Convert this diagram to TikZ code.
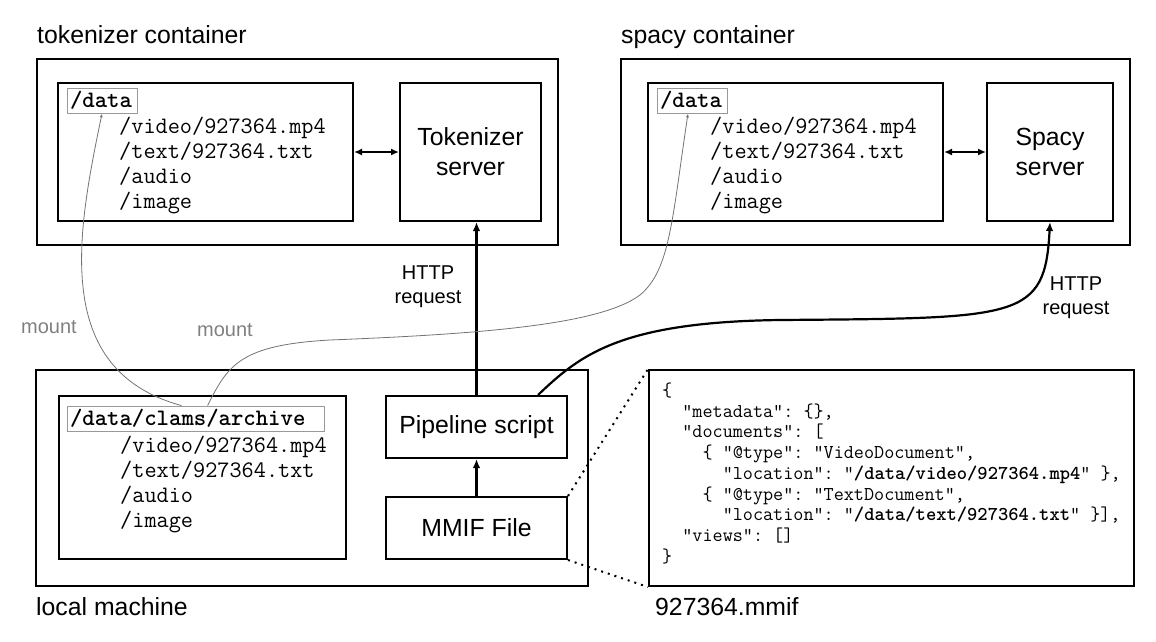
\documentclass[tikz,border=0pt]{standalone}
\usepackage{fontspec}
\setmainfont{Liberation Sans}
\usetikzlibrary{arrows.meta,calc}
\begin{document}
\begin{tikzpicture}[x=1pt,y=-1pt,
  box/.style={draw,line width=2pt,inner sep=0pt},
  big/.style={font=\fontsize{24.8}{30}\selectfont},
  note/.style={font=\fontsize{20}{24}\selectfont,align=center,inner sep=0pt},
  dir/.style={font=\fontsize{23.6}{25}\selectfont\ttfamily\frenchspacing,inner sep=0pt,anchor=base west},
  json/.style={font=\fontsize{19.6}{21}\selectfont\ttfamily\frenchspacing,inner sep=0pt,anchor=base west},
  root/.style={draw=black!40,line width=0.9pt,inner xsep=3pt,inner ysep=0pt,minimum height=25pt,align=left,font=\fontsize{23.6}{25}\selectfont\ttfamily\bfseries},
  conn/.style={line width=2.2pt,-{Latex[length=9pt,width=7.5pt]}},
  dconn/.style={line width=2pt,{Latex[length=8pt,width=7pt]}-{Latex[length=8pt,width=7pt]}},
  mnt/.style={draw=black!55,line width=0.8pt,-{Latex[length=4pt,width=3pt]}},
  dots/.style={line width=2pt,dash pattern=on 2pt off 5pt}
]
\useasboundingbox (0,0) rectangle (1156,641);

% ---------- tokenizer container ----------
\node[big,anchor=base west,inner sep=0pt] (toklbl) at (37,43) {tokenizer container};
\node[box,minimum width=521,minimum height=186] (tokout) at (297.5,152) {};
\node[box,minimum width=295,minimum height=138] (tokdata) at (205.5,152) {};
\node[root,text width=64pt] (tokroot) at (102,100.5) {/data};
\node[dir] (tokf1) at (119,133) {/video/927364.mp4};
\node[dir] (tokf2) at (119,158) {/text/927364.txt};
\node[dir] (tokf3) at (119,183) {/audio};
\node[dir] (tokf4) at (119,208) {/image};
\node[box,big,align=center,minimum width=141,minimum height=138] (toksrv) at (470.5,152) {Tokenizer\\server};
\draw[dconn] (tokdata.east) -- (toksrv.west);

% ---------- spacy container ----------
\node[big,anchor=base west,inner sep=0pt] (spylbl) at (621,43) {spacy container};
\node[box,minimum width=509,minimum height=186] (spyout) at (875.5,152) {};
\node[box,minimum width=295,minimum height=138] (spydata) at (795.5,152) {};
\node[root,text width=64pt] (spyroot) at (692,100.5) {/data};
\node[dir] (spyf1) at (710,133) {/video/927364.mp4};
\node[dir] (spyf2) at (710,158) {/text/927364.txt};
\node[dir] (spyf3) at (710,183) {/audio};
\node[dir] (spyf4) at (710,208) {/image};
\node[box,big,align=center,minimum width=126,minimum height=138] (spysrv) at (1050,152) {Spacy\\server};
\draw[dconn] (spydata.east) -- (spysrv.west);

% ---------- local machine ----------
\node[box,minimum width=552,minimum height=216] (locout) at (312,478) {};
\node[big,anchor=base west,inner sep=0pt] (loclbl) at (36,615) {local machine};
\node[box,minimum width=287,minimum height=163] (locdata) at (202.5,477.5) {};
\node[root,text width=251pt] (archive) at (195.5,418.5) {/data/clams/archive};
\node[dir] (locf1) at (120,452) {/video/927364.mp4};
\node[dir] (locf2) at (120,477) {/text/927364.txt};
\node[dir] (locf3) at (120,502) {/audio};
\node[dir] (locf4) at (120,527) {/image};
\node[box,big,minimum width=181,minimum height=62] (pipe) at (476.5,427) {Pipeline script};
\node[box,big,minimum width=181,minimum height=62] (mmif) at (476.5,528) {MMIF File};
\draw[conn] (mmif.north) -- (pipe.south);

% ---------- MMIF json ----------
\node[box,minimum width=485,minimum height=216] (json) at (891.5,478) {};
\node[big,anchor=base west,inner sep=0pt] (jsonlbl) at (655,615) {927364.mmif};
\node[json] (j1) at (662,396) {\{};
\node[json] (j2) at (662,417) {\ \ "metadata": \{\},};
\node[json] (j3) at (662,437.5) {\ \ "documents": [};
\node[json] (j4) at (662,458) {\ \ \ \ \{ "@type": "VideoDocument",};
\node[json] (j5) at (662,479) {\ \ \ \ \ \ "location": "\textbf{/data/video/927364.mp4}" \},};
\node[json] (j6) at (662,500) {\ \ \ \ \{ "@type": "TextDocument",};
\node[json] (j7) at (662,520.5) {\ \ \ \ \ \ "location": "\textbf{/data/text/927364.txt}" \}],};
\node[json] (j8) at (662,541) {\ \ "views": []};
\node[json] (j9) at (662,562) {\}};
\draw[dots] (mmif.north east) -- (json.north west);
\draw[dots] (mmif.south east) -- (json.south west);

% ---------- HTTP requests ----------
\node[note] (http1) at (428,287) {HTTP\\request};
\node[note] (http2) at (1076,298) {HTTP\\request};
\draw[conn] (pipe.north) -- (pipe.north |- toksrv.south);
\draw[conn] ([xshift=-30pt]pipe.north east) .. controls (580,355) and (620,322) .. (780,320)
  .. controls (1020,318) and (1045,320) .. (spysrv.south);

% ---------- mounts ----------
\node[note,text=black!50] (mnt1) at (49,327) {mount};
\node[note,text=black!50] (mnt2) at (225,330) {mount};
\draw[mnt] ([xshift=115pt]archive.north west) .. controls (50,370) and (78,230) .. (tokroot.south);
\draw[mnt] ([xshift=141pt]archive.north west) .. controls (228,365) and (240,345) .. (330,340)
  .. controls (480,334) and (600,325) .. (640,295)
  .. controls (670,270) and (672,220) .. ([xshift=-4pt]spyroot.south);
\end{tikzpicture}
\end{document}
